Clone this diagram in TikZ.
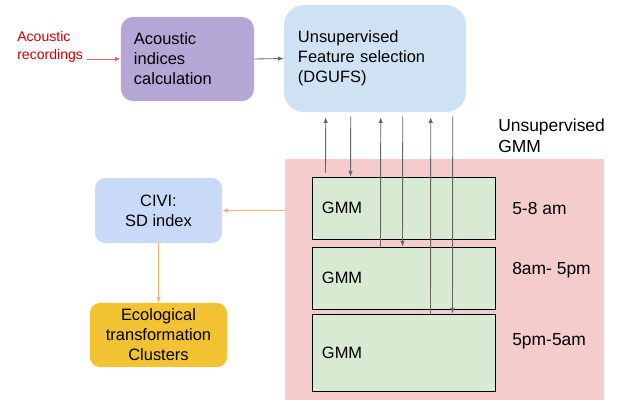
\documentclass[tikz,border=0pt]{standalone}
\usepackage{fontspec}
\setmainfont{Liberation Sans}
\usetikzlibrary{arrows.meta,calc}
\pgfdeclarelayer{bg}
\pgfsetlayers{bg,main}
\definecolor{acipurple}{HTML}{B4A7D6}
\definecolor{fsblue}{HTML}{CFE2F3}
\definecolor{civiblue}{HTML}{C9DAF8}
\definecolor{zonepink}{HTML}{F4CCCC}
\definecolor{gmmgreen}{HTML}{D9EAD3}
\definecolor{ecoyellow}{HTML}{F1C232}
\definecolor{linkorange}{HTML}{F6B26B}
\definecolor{linkgray}{HTML}{666666}
\definecolor{recred}{HTML}{CC0000}
\definecolor{linkred}{HTML}{E06666}

\begin{document}
\begin{tikzpicture}[x=0.025cm,y=-0.025cm,
        txt/.style={font=\fontsize{11.7}{14.2}\selectfont},
        side/.style={font=\fontsize{12.4}{14.6}\selectfont,inner sep=0pt,anchor=west,align=left},
        gmmbox/.style={txt,draw=black,line width=0.6pt,fill=gmmgreen,inner xsep=0.25cm,inner ysep=0pt,
                text width=4.075cm,minimum width=4.575cm,align=left},
        flow/.style={draw=linkgray,line width=0.6pt,-{Latex[length=4pt,width=3.2pt]}},
        feed/.style={draw=linkorange,line width=0.6pt,-{Latex[length=4pt,width=3.2pt]}}]
        \useasboundingbox (0,0) rectangle (618,400);
        \node (rec) [anchor=west,inner sep=0pt,align=left,text=recred,font=\fontsize{10}{12.8}\selectfont] at (17,47) {Acoustic\\recordings};
        \node (aci) [txt,fill=acipurple,rounded corners=0.3cm,inner xsep=0.325cm,inner ysep=0pt,text width=2.675cm,
                minimum width=3.325cm,minimum height=2.1cm,align=left] at (187.5,59) {Acoustic\\indices\\calculation};
        \node (fs) [txt,fill=fsblue,rounded corners=0.5cm,inner xsep=0.35cm,inner ysep=0pt,text width=3.85cm,
                minimum width=4.55cm,minimum height=2.675cm,align=left] at (375,58.5) {Unsupervised\\Feature selection\\(DGUFS)};
        \node (gmmzone) [fill=zonepink,minimum width=7.975cm,minimum height=6.025cm,inner sep=0pt] at (444.5,279.5) {};
        \node (gmmlbl) [side] at (498,136) {Unsupervised\\GMM};
        \node (g1) [gmmbox,minimum height=1.55cm] at (403.5,208) {GMM};
        \node (g2) [gmmbox,minimum height=1.55cm] at (403.5,278) {GMM};
        \node (g3) [gmmbox,minimum height=1.925cm] at (403.5,352.5) {GMM};
        \node (t1) [side] at (512,208) {5-8 am};
        \node (t2) [side] at (512,270) {8am- 5pm};
        \node (t3) [side] at (512,341) {5pm-5am};
        \node (civi) [txt,fill=civiblue,rounded corners=0.25cm,inner sep=0pt,minimum width=3.175cm,
                minimum height=1.625cm,align=center] at (158.5,210.5) {CIVI:\\SD index};
        \node (eco) [txt,fill=ecoyellow,rounded corners=0.25cm,inner sep=0pt,minimum width=3.425cm,
                minimum height=1.6cm,align=center] at (158.5,335) {Ecological\\transformation\\Clusters};
        \begin{pgfonlayer}{bg}
                \draw [draw=linkred,line width=0.6pt,-{Latex[length=4pt,width=3.2pt]}] ($(rec.east |- aci.west)+(4,0)$) -- (aci.west);
                \draw [flow] (aci.east) -- (fs.west);
        \end{pgfonlayer}
        \draw [flow] ($(g1.north west)+(14,-4)$) -- ($(fs.south west)+(42,5)$);
        \draw [flow] ($(fs.south west)+(67,4)$) -- ($(g1.north west)+(39,0)$);
        \draw [flow] ($(g2.north west)+(69,0)$) -- ($(fs.south west)+(97,5)$);
        \draw [flow] ($(fs.south west)+(119,4)$) -- ($(g2.north west)+(91,0)$);
        \draw [flow] ($(g3.north west)+(119,0)$) -- ($(fs.south west)+(147,5)$);
        \draw [flow] ($(fs.south west)+(169,4)$) -- ($(g3.north west)+(141,0)$);
        \draw [feed] (gmmzone.west |- civi.east) -- (civi.east);
        \draw [feed] (civi.south) -- (eco.north);
\end{tikzpicture}
\end{document}
